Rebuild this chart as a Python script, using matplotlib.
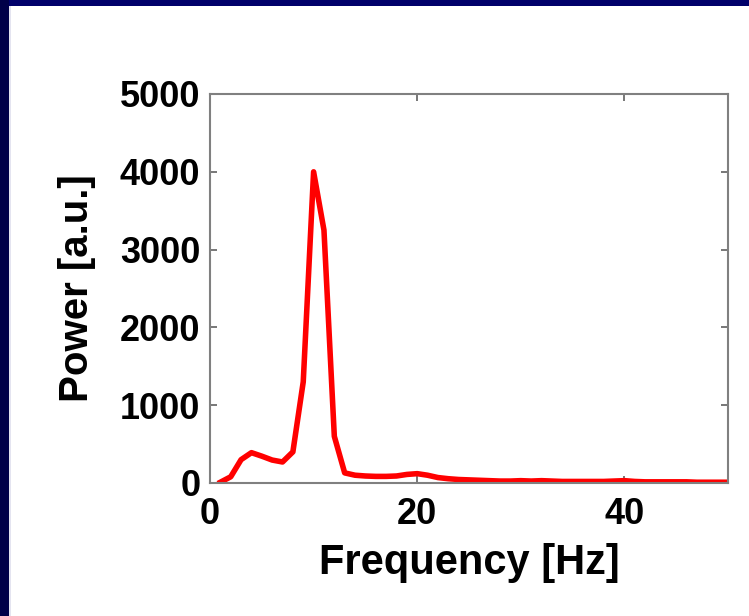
import matplotlib
matplotlib.use("Agg")
import matplotlib.pyplot as plt
from matplotlib.patches import Rectangle

freq_hz = list(range(1, 51))
power_au = [10, 80, 300, 390, 345, 295, 270, 400, 1300, 4000,
            3250, 600, 130, 100, 90, 85, 85, 90, 110, 120,
            100, 70, 55, 45, 40, 35, 30, 25, 25, 30,
            25, 30, 25, 20, 20, 20, 20, 20, 25, 30,
            20, 15, 15, 15, 15, 15, 10, 10, 10, 10]
x_ticks = [0, 20, 40]
y_ticks = [0, 1000, 2000, 3000, 4000, 5000]
x_label = "Frequency [Hz]"
y_label = "Power [a.u.]"

plt.rcParams['font.family'] = ['Liberation Sans', 'DejaVu Sans']

W, H = 749, 616
fig = plt.figure(figsize=(W / 100, H / 100), dpi=100, facecolor='white')

# navy slide frame (top and left)
fig.patches.append(Rectangle((0, 1 - 6 / H), 1, 6 / H, transform=fig.transFigure,
                             facecolor='#00006a', edgecolor='none', zorder=0))
fig.patches.append(Rectangle((0, 0), 9 / W, 1, transform=fig.transFigure,
                             facecolor='#000048', edgecolor='none', zorder=0))
fig.patches.append(Rectangle((9 / W, 0), 2 / W, 1 - 6 / H, transform=fig.transFigure,
                             facecolor='#e4e4f0', edgecolor='none', zorder=0))

left, right, top, bottom = 210, 728, 94, 483
ax = fig.add_axes([left / W, 1 - bottom / H, (right - left) / W, (bottom - top) / H])
ax.plot(freq_hz, power_au, color='#ff0000', linewidth=4.0, solid_joinstyle='round')
ax.set_xlim(0, 50)
ax.set_ylim(0, 5000)
ax.set_xticks(x_ticks)
ax.set_yticks(y_ticks)
for s in ax.spines.values():
    s.set_color('#808080')
    s.set_linewidth(1.5)
ax.tick_params(direction='in', length=5, width=1.2, color='#606060',
               labelsize=26, pad=7, top=True, right=True,
               labeltop=False, labelright=False)
ax.tick_params(axis='x', pad=10)
for lab in ax.get_xticklabels() + ax.get_yticklabels():
    lab.set_fontweight('bold')
ax.set_xlabel(x_label, fontsize=30, fontweight='bold', labelpad=8)
ax.set_ylabel(y_label, fontsize=29, fontweight='bold', labelpad=17)

fig.savefig('out.png', dpi=100, facecolor='white')
